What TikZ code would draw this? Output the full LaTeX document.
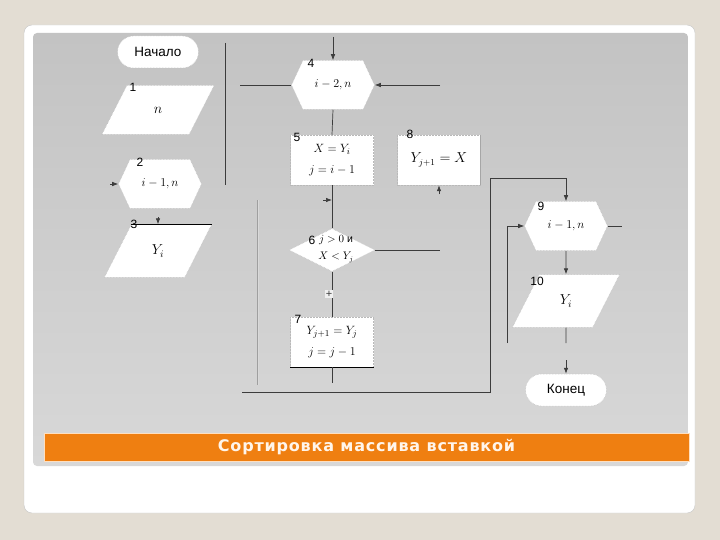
\documentclass[tikz,border=0pt]{standalone}
\usepackage{fontspec}
\setmainfont{Liberation Sans}
\newfontfamily\titlefont[LetterSpace=5]{DejaVu Sans}
\usepackage{tikz}
\usetikzlibrary{shapes.geometric,shapes.misc,shapes.symbols,arrows.meta,calc}
\definecolor{SlideBeige}{HTML}{E3DDD3}
\definecolor{PanelTop}{HTML}{C3C3C3}
\definecolor{PanelBottom}{HTML}{D8D8D8}
\definecolor{BarOrange}{HTML}{EF7F11}
\definecolor{LineGray}{HTML}{3C3C3C}

\begin{document}
\begin{tikzpicture}[x=1pt,y=-1pt,
    blk/.style={fill=white,draw=gray!55,densely dotted,line width=.5pt,inner sep=1pt,
      font=\fontsize{12.5}{21}\selectfont},
    box/.style={blk,rectangle,minimum width=83,minimum height=50,align=center},
    term/.style={blk,rounded rectangle,minimum width=83,minimum height=32,
      font=\fontsize{13.5}{15}\selectfont},
    loopbox/.style={blk,signal,signal to=east and west,signal pointer angle=130,
      minimum width=83,minimum height=49},
    io/.style={blk,trapezium,trapezium left angle=63,trapezium right angle=117,
      minimum width=108,minimum height=49,font=\fontsize{14}{16}\selectfont},
    num/.style={font=\fontsize{12}{14}\selectfont,inner sep=0pt},
    ln/.style={LineGray,line width=.7pt},
    arr/.style={ln,-{Latex[length=6pt,width=4.5pt]}}
  ]
    \useasboundingbox (0,0) rectangle (720,540);
    \fill[SlideBeige] (0,0) rectangle (720,540);
    \draw[fill=white,draw=gray!45,rounded corners=8] (24,25) rectangle (695,513);
    \shade[top color=PanelTop,bottom color=PanelBottom,rounded corners=4] (33,33) rectangle (688,466);

    % blocks
    \node[term] (start) at (158,52) {Начало};
    \node[io] (b1) at (158,110) {$n$};
    \node[loopbox] (b2) at (160,184) {$i-1,n$};
    \node[io] (b3) at (158,251) {$Y_i$};
    \node[loopbox] (b4) at (333,85) {$i-2,n$};
    \node[box] (b5) at (332,160) {$X=Y_i$\\$j=i-1$};
    \node[box] (b8) at (439,160) {\fontsize{13.5}{15}\selectfont$Y_{j+1}=X$};
    \node[blk,diamond,aspect=2,minimum width=86,minimum height=43] (b6) at (332,250) {};
    \node[font=\fontsize{10.5}{17}\selectfont,align=center,inner sep=0pt] (b6txt) at (336,249) {$j>0$ и\\$X<Y_j$};
    \node[box] (b7) at (332,342) {$Y_{j+1}=Y_j$\\$j=j-1$};
    \node[loopbox] (b9) at (566,226) {$i-1,n$};
    \node[io] (b10) at (566,301) {$Y_i$};
    \node[term] (end) at (566,390) {Конец};

    \foreach \nm/\x/\y in {1/133/87,2/140/162,3/134/224,4/311/63,5/297/137,
                           6/312/240,7/298/319,8/410/134,9/541/206,10/537/281}
      \node[num] (n\nm) at (\x,\y) {\nm};

    \draw[line width=.8pt] (b3.top left corner) -- (b3.top right corner);
    \draw[line width=.8pt] (b7.south west) -- (b7.south east);
    \draw[gray!70,line width=.6pt] (b8.north east) -- (b8.south east);

    % connectors
    \coordinate (v1a) at (225,43);
    \coordinate (v1b) at (225,185);
    \draw[ln] (v1a) -- (v1b);
    \coordinate (v2a) at (258,200);
    \coordinate (v2b) at (258,385);
    \draw[gray!75,line width=.6pt,double=gray!30,double distance=.8pt] (v2a) -- (v2b);

    \draw[arr] ($(b2.west)+(-8,0)$) coordinate (in2) -- (b2.west);
    \draw[arr] ($(b3.north)+(0,-7)$) coordinate (in3) -- (b3.north);

    \coordinate (topin) at (333,37);
    \draw[arr] (topin) -- (b4.north);
    \coordinate (l4) at (240,85);
    \draw[ln] (l4) -- (b4.west);
    \coordinate (r4) at (440,85);
    \draw[arr] (r4) -- (b4.east);
    \draw[ln] (b4.south) -- (b5.north);
    \draw[ln] (b5.south) -- (b6.north);
    \coordinate (m56) at (332,200);
    \draw[arr] ($(m56)+(-9,0)$) -- (m56);
    \draw[arr] ($(b8.south)+(0,9)$) coordinate (in8) -- (b8.south);
    \coordinate (r6) at (440,250);
    \draw[ln] (b6.east) -- (r6);
    \draw[ln] (b6.south) -- node[fill=gray!12,inner sep=1pt,font=\fontsize{11}{12}\selectfont,xshift=-3pt] (plus) {+} (b7.north);
    \coordinate (d7) at (332,383);
    \draw[ln] (b7.south) -- (d7);

    \coordinate (lp1) at (242,392);
    \coordinate (lp2) at (490,392);
    \coordinate (lp3) at (490,178);
    \draw[arr] (lp1) -- (lp2) -- (lp3) -- (b9.north |- lp3) -- (b9.north);
    \coordinate (w9) at (507,343);
    \draw[arr] (w9) |- (b9.west);
    \coordinate (e9) at (622,226);
    \draw[ln] (b9.east) -- (e9);
    \draw[arr] (b9.south) -- (b10.north);
    \coordinate (s10) at (566,343);
    \draw[ln] (b10.south) -- (s10);
    \coordinate (in11) at (566,360);
    \draw[arr] (in11) -- (end.north);

    % caption bar
    \node[fill=BarOrange,draw=orange!25,line width=.8pt,minimum width=645,minimum height=28,
      text=white!92!orange,font=\titlefont\bfseries\fontsize{16}{18}\selectfont] (title)
      at (366.5,447) {Сортировка массива вставкой};
\end{tikzpicture}
\end{document}
